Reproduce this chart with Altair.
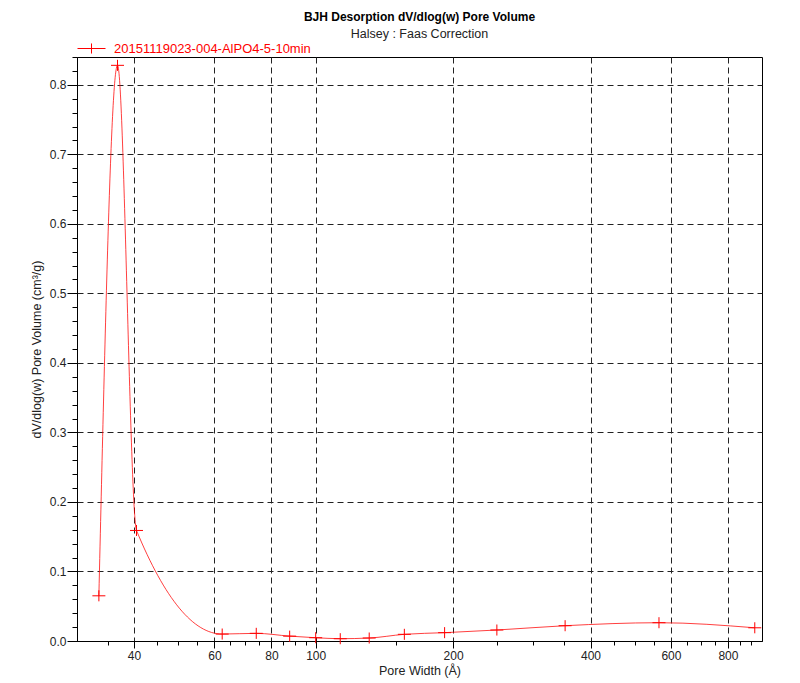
import altair as alt
import pandas as pd

# data
pore_width = [33.5, 36.8, 40.5, 62.4, 74.1, 87.7, 100.0, 113.2, 131.0, 156.4, 191.6, 249.4, 351.9, 565.0, 916.0]
pore_volume = [0.065, 0.828, 0.159, 0.010, 0.011, 0.007, 0.0047, 0.0033, 0.0043, 0.0096, 0.012, 0.0158, 0.022, 0.0263, 0.019]
series_name = "20151119023-004-AlPO4-5-10min"

x_major = [40, 60, 80, 100, 200, 400, 600, 800]
x_ticks = [35, 40, 45, 50, 55, 60, 65, 70, 75, 80, 85, 90, 95, 100, 150, 200, 250, 300, 350,
           400, 450, 500, 550, 600, 650, 700, 750, 800, 850, 900]
y_ticks = [round(i * 0.02, 2) for i in range(0, 43)]

df = pd.DataFrame({"w": pore_width, "v": pore_volume, "series": [series_name] * len(pore_width)})

FONT = "Liberation Sans"
x_major_test = "indexof([" + ",".join(str(v) for v in x_major) + "], datum.value) >= 0"
y_major_test = "abs(datum.value*10 - round(datum.value*10)) < 0.001"

x_enc = alt.X(
    "w:Q",
    scale=alt.Scale(type="log", domain=[30, 950], nice=False),
    axis=alt.Axis(
        title="Pore Width (Å)",
        values=x_ticks,
        labelExpr=f"{x_major_test} ? format(datum.value, 'd') : ''",
        grid=True,
        gridColor="#222",
        gridDash=[6, 4],
        gridOpacity={"condition": {"test": x_major_test, "value": 1}, "value": 0},
        tickSize={"condition": {"test": x_major_test, "value": 7}, "value": 4},
        labelPadding=2,
        labelFlush=False,
        labelOverlap=False,
        titlePadding=3,
    ),
)
y_enc = alt.Y(
    "v:Q",
    scale=alt.Scale(domain=[0, 0.84], nice=False, zero=True),
    axis=alt.Axis(
        title="dV/dlog(w) Pore Volume (cm³/g)",
        values=y_ticks,
        labelExpr=f"{y_major_test} ? format(datum.value, '.1f') : ''",
        grid=True,
        gridColor="#222",
        gridDash=[6, 4],
        gridOpacity={"condition": {"test": y_major_test, "value": 1}, "value": 0},
        tickSize={"condition": {"test": y_major_test, "value": 10}, "value": 5},
        labelPadding=1,
        labelFlush=False,
        labelOverlap=False,
        titlePadding=6,
    ),
)

line = alt.Chart(df).mark_line(
    interpolate="monotone", color="#ff0000", strokeWidth=1, opacity=0.75
).encode(x=x_enc, y=y_enc)

points = alt.Chart(df).mark_point(
    shape="M-1,0L1,0M0,-0.85L0,0.85", size=169, strokeWidth=1, filled=False, opacity=1
).encode(
    x=x_enc,
    y=y_enc,
    color=alt.Color(
        "series:N",
        scale=alt.Scale(range=["#ff0000"]),
        legend=alt.Legend(
            title=None,
            orient="none",
            legendX=0,
            legendY=-23,
            symbolType="M-1,0L1,0M0,-0.36L0,0.36",
            symbolSize=784,
            symbolStrokeWidth=1,
            symbolStrokeColor="#ff0000",
            labelColor="#ff0000",
            labelFont=FONT,
            labelFontSize=13,
            labelOffset=8,
            labelLimit=0,
            padding=0,
        ),
    ),
)

chart = (
    alt.layer(line, points)
    .properties(
        width=685,
        height=584,
        title=alt.TitleParams(
            "BJH Desorption dV/dlog(w) Pore Volume",
            subtitle="Halsey : Faas Correction",
            font=FONT,
            fontSize=12,
            fontWeight="bold",
            color="#000",
            subtitleFont=FONT,
            subtitleFontSize=12.5,
            subtitleColor="#222",
            subtitlePadding=4,
            anchor="middle",
            offset=-7,
        ),
        autosize=alt.AutoSizeParams(type="none"),
        padding={"left": 69, "top": 49, "right": 22, "bottom": 40},
    )
    .configure_view(stroke="#000", strokeWidth=1)
    .configure_axis(
        domainColor="#000",
        tickColor="#000",
        labelFont=FONT,
        labelFontSize=12,
        labelColor="#222",
        titleFont=FONT,
        titleFontSize=12.5,
        titleFontWeight="normal",
        titleColor="#222",
    )
)

chart.save("out.html", embed_options={"renderer": "svg", "actions": False})
